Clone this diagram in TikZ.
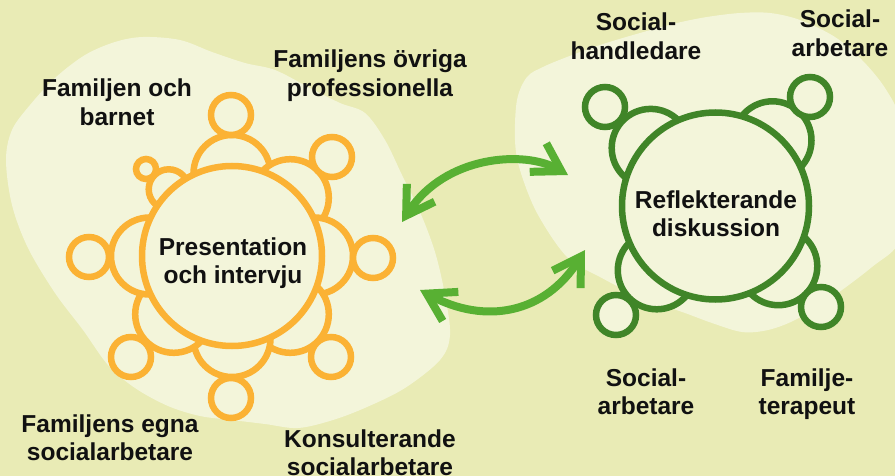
\documentclass[tikz,border=0pt]{standalone}
\usepackage{fontspec}
\setmainfont{Liberation Sans}
\usetikzlibrary{arrows.meta}
\definecolor{bgcol}{RGB}{233,235,181}
\definecolor{blobcol}{RGB}{243,245,218}
\definecolor{orangecol}{RGB}{251,178,52}
\definecolor{dgreen}{RGB}{64,133,40}
\definecolor{agreen}{RGB}{88,176,51}
\definecolor{txtcol}{RGB}{17,17,17}
\newcommand{\twoln}[2]{\vtop{\halign{\hfil##\hfil\cr#1\cr#2\cr}}}
\tikzset{
  blob/.style={fill=blobcol, draw=none},
  oring/.style={circle, draw=orangecol, fill=blobcol, line width=6.5pt, inner sep=0pt, minimum size=#1},
  gring/.style={circle, draw=dgreen, fill=blobcol, line width=6.5pt, inner sep=0pt, minimum size=#1},
  lbl/.style={anchor=base, inner sep=0pt, text=txtcol, font=\fontsize{24.5}{28.5}\selectfont\bfseries},
  arrowline/.style={draw=agreen, line width=8pt,
    {Straight Barb[length=27pt,width=33pt,sharp]}-{Straight Barb[length=27pt,width=33pt,sharp]}}
}
\begin{document}
\begin{tikzpicture}[x=1pt,y=-1pt]
\fill[bgcol] (0,0) rectangle (895,476);
\useasboundingbox (0,0) rectangle (895,476);
% background blobs
\fill[blob] plot[smooth cycle, tension=0.55] coordinates {
 (143,37) (180,40) (212,52) (245,63) (275,70) (310,88) (340,103) (365,113)
 (385,140) (402,175) (420,212) (435,252) (445,295) (450,335) (440,360)
 (405,388) (367,407) (333,420) (298,428) (265,424) (232,420) (200,416)
 (168,406) (135,388) (108,365) (83,330) (55,293) (28,248) (12,205)
 (6,160) (12,130) (30,105) (55,78) (85,55) (115,42)};
\fill[blob] plot[smooth cycle, tension=0.55] coordinates {
 (515,140) (517,100) (527,77) (543,67) (567,57) (600,45) (640,33) (677,23)
 (707,17) (740,13) (770,13) (800,20) (835,37) (862,60) (885,88) (900,120)
 (905,180) (900,240) (872,267) (828,300) (795,320) (768,330) (742,332)
 (712,323) (685,313) (640,297) (600,277) (567,257) (537,213) (520,170)};
% ---------- left (orange) group ----------
% bodies
\node[oring=77pt] (ob1) at (232,173.5) {};
\node[oring=77pt] (ob2) at (290.3,197.7) {};
\node[oring=77pt] (ob3) at (314.5,256) {};
\node[oring=77pt] (ob4) at (290.3,314.3) {};
\node[oring=77pt] (ob5) at (232,338.5) {};
\node[oring=77pt] (ob6) at (173.7,314.3) {};
\node[oring=77pt] (ob7) at (149.5,256) {};
\node[oring=40pt] (ob8) at (168.7,189.3) {};
% heads
\node[oring=40pt] (oh1) at (231,115) {};
\node[oring=40pt] (oh2) at (332,157) {};
\node[oring=40pt] (oh3) at (373,258) {};
\node[oring=40pt] (oh4) at (331,357) {};
\node[oring=40pt] (oh5) at (231,398) {};
\node[oring=40pt] (oh6) at (131,357) {};
\node[oring=40pt] (oh7) at (89,257) {};
\node[oring=20pt] (oh8) at (146,169) {};
% table
\node[oring=180pt] (otable) at (232,256) {};
\node[lbl] (otxt) at (233,255) {\twoln{Presentation}{och intervju}};
% ---------- right (green) group ----------
\node[gring=78pt] (gb1) at (650.7,147.9) {};
\node[gring=78pt] (gb2) at (772.5,140.3) {};
\node[gring=78pt] (gb3) at (656.8,270.3) {};
\node[gring=78pt] (gb4) at (778.3,266.2) {};
\node[gring=40pt] (gh1) at (605,107) {};
\node[gring=40pt] (gh2) at (810,97) {};
\node[gring=40pt] (gh3) at (616,315) {};
\node[gring=40pt] (gh4) at (821,307) {};
\node[gring=187pt] (gtable) at (715.5,206) {};
\node[lbl] (gtxt) at (716,208) {\twoln{Reflekterande}{diskussion}};
% ---------- labels ----------
\node[lbl] (l1) at (117,97) {\twoln{Familjen och}{barnet}};
\node[lbl] (l2) at (370,68) {\twoln{Familjens övriga}{professionella}};
\node[lbl] (l3) at (110,432) {\twoln{Familjens egna}{socialarbetare}};
\node[lbl] (l4) at (370,447) {\twoln{Konsulterande}{socialarbetare}};
\node[lbl] (r1) at (636,31) {\twoln{Social-}{handledare}};
\node[lbl] (r2) at (840,28) {\twoln{Social-}{arbetare}};
\node[lbl] (r3) at (646,386) {\twoln{Social-}{arbetare}};
\node[lbl] (r4) at (807,386) {\twoln{Familje-}{terapeut}};
% ---------- arrows ----------
\coordinate (ua1) at (402,222);
\coordinate (ua2) at (568,175);
\coordinate (la1) at (420,290);
\coordinate (la2) at (585,250);
\draw[arrowline] (ua1) .. controls (445,155) and (525,150) .. (ua2);
\draw[arrowline] (la1) .. controls (485,325) and (545,314) .. (la2);
\end{tikzpicture}
\end{document}
